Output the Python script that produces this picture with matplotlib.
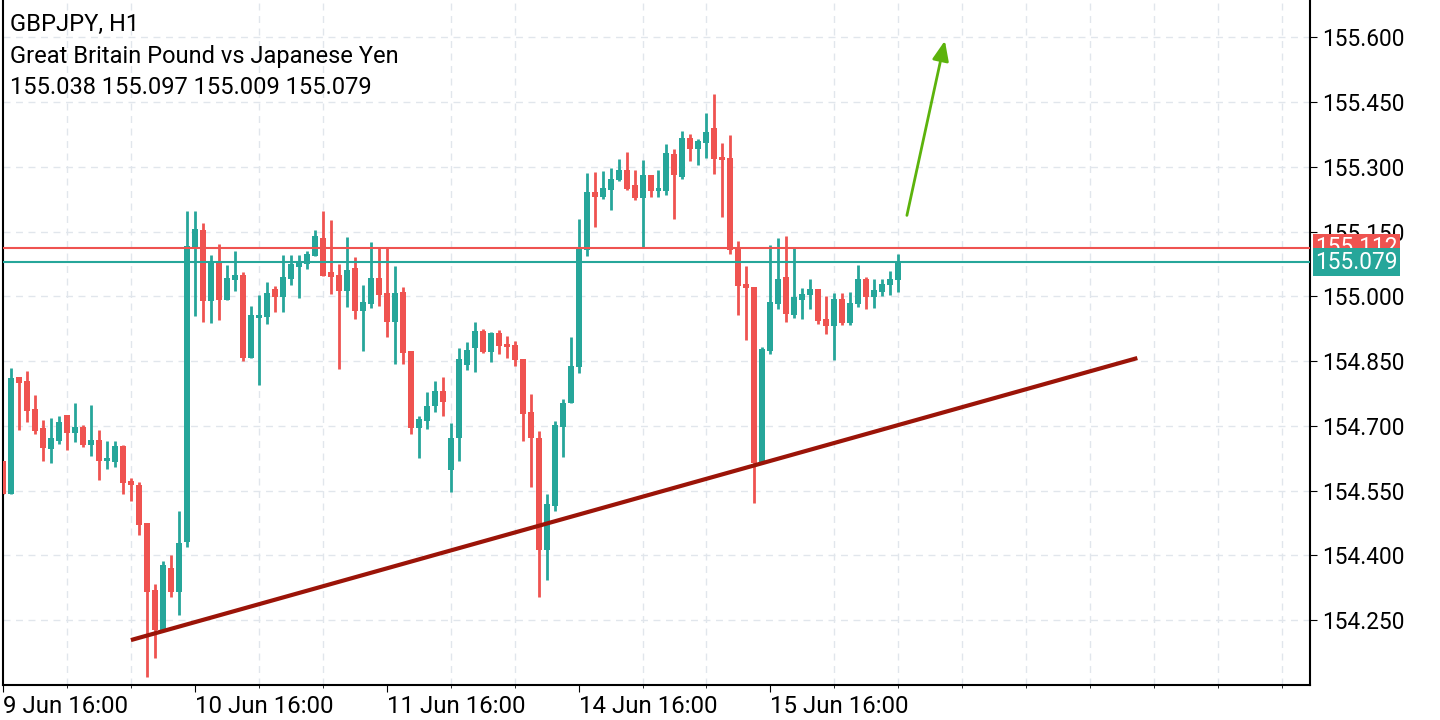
import matplotlib
matplotlib.use("Agg")
import matplotlib.pyplot as plt
import numpy as np

plt.rcParams['font.family'] = ['Roboto', 'DejaVu Sans']

O = [154.618,154.542,154.813,154.804,154.739,154.695,154.646,154.664,154.725,154.683,
154.697,154.655,154.667,154.618,154.616,154.653,154.572,154.563,154.475,154.320,
154.227,154.371,154.315,154.431,155.113,155.153,154.989,155.077,154.991,155.037,
155.049,154.857,154.949,154.952,155.017,154.998,155.040,155.067,155.074,155.093,
155.135,155.056,155.049,155.012,155.065,154.966,154.982,155.042,155.007,154.940,
155.010,154.873,154.695,154.711,154.746,154.780,154.597,154.672,154.841,154.880,
154.919,154.871,154.915,154.889,154.887,154.855,154.732,154.671,154.412,154.514,
154.697,154.753,154.836,155.107,155.241,155.230,155.246,155.269,155.292,155.257,
155.227,155.280,155.243,155.243,155.329,155.276,155.366,155.341,155.355,155.389,
155.322,155.320,155.114,155.028,155.021,154.614,154.873,154.982,155.044,154.956,
154.991,155.003,155.017,154.947,154.931,154.993,154.938,154.982,155.040,154.998,
155.010,155.026,155.038]
H = [154.618,154.833,154.813,154.827,154.771,154.713,154.718,154.722,154.725,154.752,
154.702,154.748,154.690,154.665,154.665,154.655,154.579,154.570,154.475,154.334,
154.387,154.401,154.503,155.197,155.197,155.169,155.095,155.121,155.072,155.104,
155.056,154.977,155.003,155.033,155.024,155.095,155.095,155.095,155.104,155.153,
155.197,155.176,155.074,155.137,155.091,155.026,155.125,155.111,155.111,155.070,
155.021,154.873,154.722,154.778,154.803,154.813,154.706,154.880,154.894,154.940,
154.924,154.917,154.922,154.908,154.896,154.855,154.773,154.688,154.542,154.711,
154.762,154.905,155.179,155.285,155.287,155.290,155.297,155.318,155.334,155.292,
155.315,155.280,155.292,155.352,155.341,155.382,155.375,155.364,155.424,155.468,
155.355,155.373,155.128,155.070,155.021,154.882,155.118,155.135,155.139,155.111,
155.019,155.040,155.017,155.000,155.007,155.007,155.010,155.072,155.044,155.040,
155.040,155.058,155.097]
L = [154.542,154.542,154.691,154.709,154.681,154.618,154.614,154.658,154.644,154.662,
154.651,154.630,154.574,154.600,154.604,154.542,154.526,154.447,154.118,154.162,
154.227,154.303,154.262,154.419,154.954,154.940,154.938,154.945,154.991,155.012,
154.850,154.857,154.794,154.935,154.963,154.963,155.026,154.996,155.063,155.093,
155.047,155.005,154.831,154.975,154.947,154.873,154.973,154.977,154.905,154.843,
154.843,154.681,154.625,154.692,154.732,154.722,154.546,154.618,154.829,154.824,
154.868,154.847,154.866,154.857,154.838,154.665,154.558,154.303,154.343,154.502,
154.627,154.753,154.822,155.093,155.160,155.225,155.199,155.267,155.246,155.223,
155.111,155.230,155.230,155.234,155.179,155.271,155.313,155.304,155.320,155.283,
155.183,155.098,154.956,154.898,154.521,154.614,154.866,154.970,154.940,154.949,
154.947,154.970,154.935,154.912,154.852,154.933,154.933,154.975,154.970,154.972,
155.000,155.003,155.009]
C = [154.542,154.810,154.799,154.734,154.688,154.648,154.672,154.709,154.683,154.697,
154.655,154.667,154.618,154.625,154.653,154.567,154.563,154.470,154.315,154.227,
154.378,154.315,154.429,155.116,155.155,154.989,155.081,154.991,155.042,155.049,
154.857,154.956,154.956,155.007,154.998,155.044,155.074,155.079,155.098,155.139,
155.047,155.044,155.012,155.060,154.966,154.986,155.042,155.003,154.940,155.007,
154.868,154.695,154.716,154.746,154.780,154.755,154.671,154.855,154.876,154.919,
154.871,154.915,154.885,154.882,154.852,154.727,154.671,154.412,154.519,154.702,
154.753,154.838,155.111,155.241,155.230,155.250,155.271,155.292,155.248,155.227,
155.280,155.243,155.250,155.331,155.280,155.366,155.341,155.359,155.380,155.318,
155.315,155.107,155.023,155.019,154.614,154.878,154.986,155.040,154.959,154.998,
155.005,155.017,154.942,154.931,154.993,154.938,154.984,155.040,154.998,155.014,
155.028,155.040,155.079]

tick_pos = [0, 24, 48, 72, 96]
tick_labels = ["9 Jun 16:00", "10 Jun 16:00", "11 Jun 16:00", "14 Jun 16:00", "15 Jun 16:00"]
y_ticks = [154.25, 154.40, 154.55, 154.70, 154.85, 155.00, 155.15, 155.30, 155.45, 155.60]
ask_line = 155.112
bid_line = 155.079
trend = ([16, 141.9], [154.204, 154.857])
arrow = ((113, 155.181), (117.9, 155.598))

GREEN = "#26a69a"
RED = "#ef5350"

fig = plt.figure(figsize=(14.4, 7.2), dpi=100)
ax = fig.add_axes([3/1440, 35/720, 1307/1440, 685/720])
ax.set_xlim(0.125, 163.5)
ax.set_ylim(154.100, 155.686)

ax.set_xticks(np.arange(0, 164, 8), minor=True)
ax.set_yticks(y_ticks)
ax.grid(True, which='minor', axis='x', color='#e1e6ec', linestyle=(0, (5, 4)), lw=1)
ax.grid(True, which='major', axis='y', color='#e1e6ec', linestyle=(0, (5, 4)), lw=1)
ax.set_axisbelow(True)

for i in range(len(O)):
    col = GREEN if C[i] >= O[i] else RED
    ax.vlines(i, L[i], H[i], color=col, lw=2, zorder=2)
    lo, hi = min(O[i], C[i]), max(O[i], C[i])
    ax.bar(i, max(hi - lo, 0.003), bottom=lo, width=0.75, color=col, zorder=3, linewidth=0)

ax.axhline(ask_line, color=RED, lw=1.5, zorder=4)
ax.axhline(bid_line, color=GREEN, lw=1.5, zorder=4)
ax.plot(trend[0], trend[1], color="#9b1408", lw=3, zorder=5, solid_capstyle='butt')
ax.annotate("", xy=arrow[1], xytext=arrow[0],
            arrowprops=dict(arrowstyle="-|>,head_length=1.2,head_width=0.5", color="#5cb30c", lw=2), zorder=6)

ax.yaxis.tick_right()
ax.set_yticklabels([f"{v:.3f}" for v in y_ticks])
ax.tick_params(axis='y', labelsize=16.3, length=5, pad=4, colors='black')
ax.set_xticks(tick_pos)
ax.set_xticklabels(tick_labels, ha='left')
ax.tick_params(axis='x', labelsize=17.3, length=5, pad=2)
for s in ['left', 'right', 'bottom']:
    ax.spines[s].set_color('black'); ax.spines[s].set_linewidth(1.5)
ax.spines['top'].set_visible(False)

for val, col in [(ask_line, RED), (bid_line, GREEN)]:
    ax.text(1.004, val, f"{val:.3f}", transform=ax.get_yaxis_transform(), color='white',
            fontsize=16.3, va='center', ha='left', zorder=10,
            bbox=dict(boxstyle='square,pad=0.12', facecolor=col, edgecolor='none'), clip_on=False)

for k, t in enumerate(["GBPJPY, H1", "Great Britain Pound vs Japanese Yen",
                       "155.038 155.097 155.009 155.079"]):
    fig.text(10/1440, 1 - (24 + 32*k)/720, t, fontsize=17, va='center', ha='left')

fig.savefig("out.png", dpi=100)
